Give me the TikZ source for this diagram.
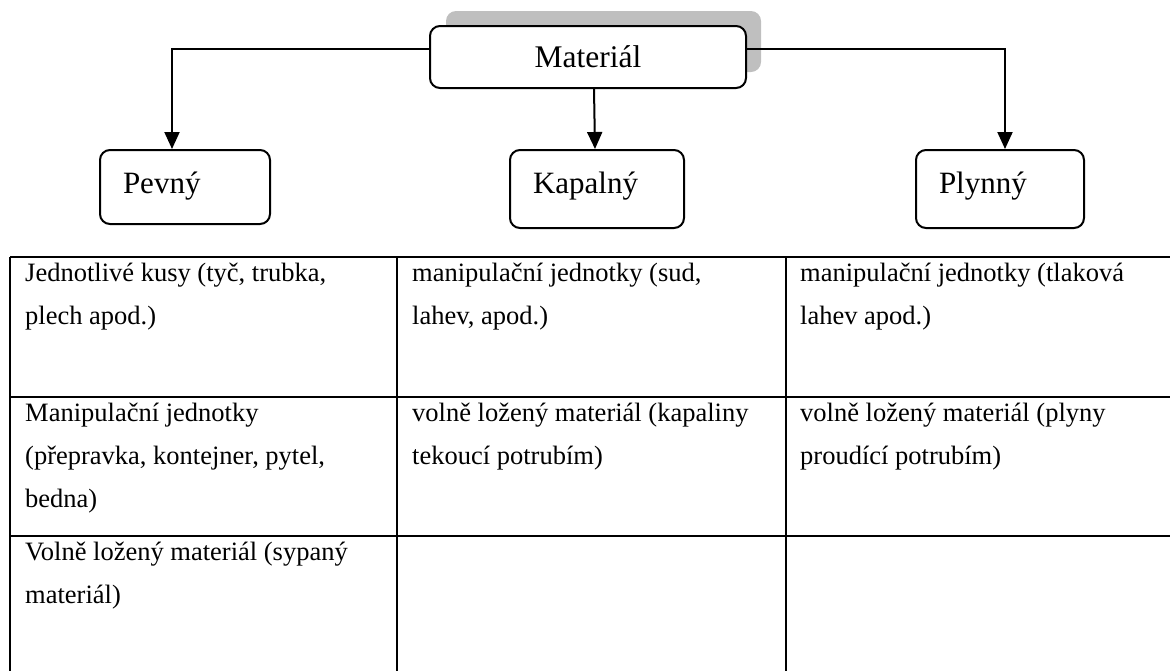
\documentclass[tikz,border=0pt]{standalone}
\usepackage{fontspec}
\setmainfont{Liberation Serif}
\usetikzlibrary{arrows.meta}
\definecolor{shadowgrey}{RGB}{191,191,191}
\begin{document}
\begin{tikzpicture}[x=1pt,y=-1pt,
  box/.style={draw=black, line width=2pt, rounded corners=10pt, fill=white, inner sep=0pt},
  catbox/.style={box, align=left, inner xsep=23pt, font=\fontsize{31}{36}\selectfont},
  conn/.style={line width=2pt, -{Triangle[length=17pt,width=15pt]}},
  gridline/.style={line width=2pt},
  cell/.style={anchor=base west, align=left, inner sep=0pt, font=\fontsize{26.5}{43}\selectfont}
]
\useasboundingbox (0,0) rectangle (1170,670);
% shadow of the top box
\fill[shadowgrey, rounded corners=10pt] (446,11) rectangle (761,72);
% top node
\node[box, minimum width=316pt, minimum height=62pt, font=\fontsize{31.5}{36}\selectfont] (mat) at (588,57) {Materiál};
% category nodes
\node[catbox, text width=124pt, text height=20pt, text depth=8pt, minimum height=74pt] (pev) at (185,187) {Pevný};
\node[catbox, text width=128pt, text height=19pt, text depth=11pt, minimum height=78pt] (kap) at (597,189) {Kapalný};
\node[catbox, text width=122pt, text height=19pt, text depth=11pt, minimum height=78pt] (ply) at (1000,189) {Plynný};
% connectors
\draw[conn] ([yshift=8pt]mat.west) -| ([xshift=-13pt]pev.north);
\draw[conn] ([xshift=6pt]mat.south) -- ([xshift=-2pt]kap.north);
\draw[conn] ([yshift=8pt]mat.east) -| ([xshift=5pt]ply.north);
% table grid
\draw[gridline] (10,257) -- (1175,257);
\draw[gridline] (10,397) -- (1175,397);
\draw[gridline] (10,536) -- (1175,536);
\draw[gridline] (10,257) -- (10,680);
\draw[gridline] (397,257) -- (397,680);
\draw[gridline] (786,257) -- (786,680);
% table cells (anchored at the baseline of their last line)
\node[cell] (c11) at (25,324) {Jednotlivé kusy (tyč, trubka,\\plech apod.)};
\node[cell] (c12) at (412,324) {manipulační jednotky (sud,\\lahev, apod.)};
\node[cell] (c13) at (800,324) {manipulační jednotky (tlaková\\lahev apod.)};
\node[cell] (c21) at (25,507) {Manipulační jednotky\\(přepravka, kontejner, pytel,\\bedna)};
\node[cell] (c22) at (412,464) {volně ložený materiál (kapaliny\\tekoucí potrubím)};
\node[cell] (c23) at (800,464) {volně ložený materiál (plyny\\proudící potrubím)};
\node[cell] (c31) at (25,603) {Volně ložený materiál (sypaný\\materiál)};
\end{tikzpicture}
\end{document}
